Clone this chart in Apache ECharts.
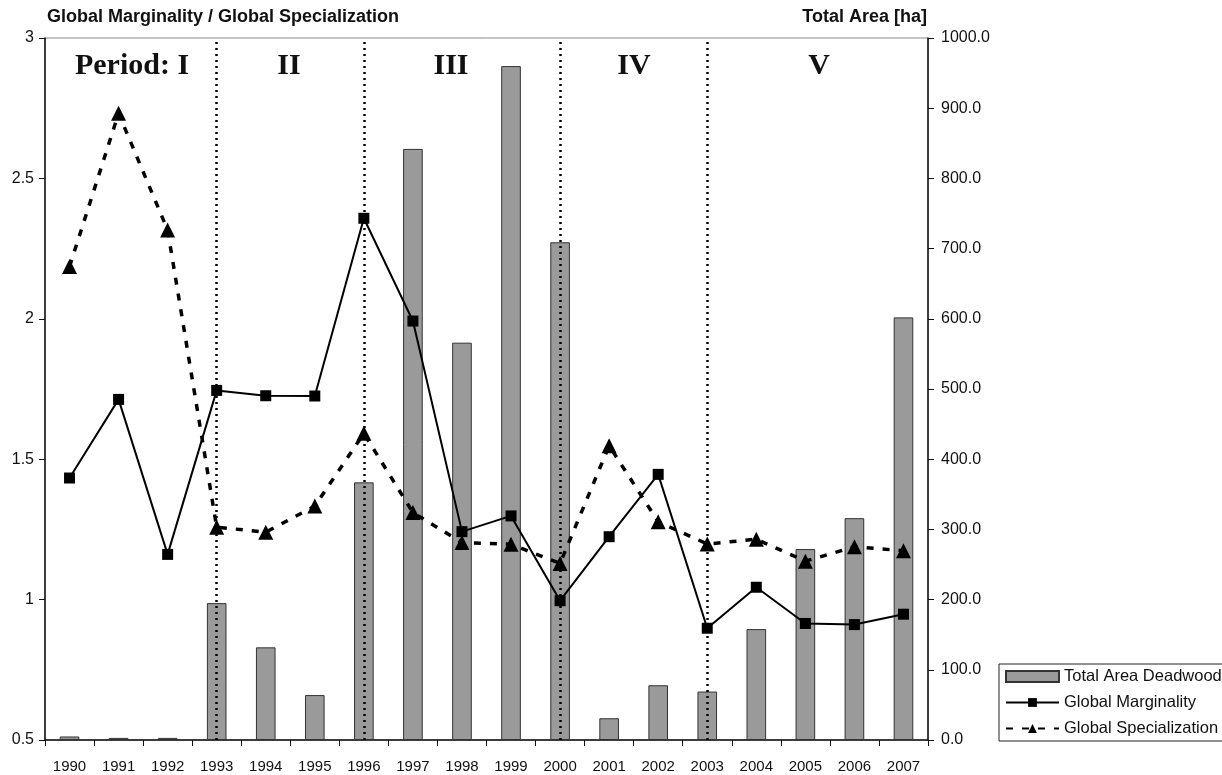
<!DOCTYPE html>
<html>
<head>
<meta charset="utf-8">
<script src="https://cdn.jsdelivr.net/npm/echarts@6/dist/echarts.min.js"></script>
<style>
html,body{margin:0;padding:0;background:#fff;}
#chart{width:1222px;height:775px;}
</style>
</head>
<body>
<div id="chart"></div>
<script>
var years = ['1990','1991','1992','1993','1994','1995','1996','1997','1998','1999','2000','2001','2002','2003','2004','2005','2006','2007'];
var totalArea = [5, 3, 3, 195, 132, 64, 367, 842, 566, 960, 709, 31, 78, 69, 158, 272, 316, 602];
var marginality = [1.433, 1.713, 1.161, 1.745, 1.726, 1.725, 2.358, 1.992, 1.242, 1.298, 0.996, 1.224, 1.446, 0.898, 1.044, 0.915, 0.911, 0.948];
var specialization = [2.186, 2.732, 2.316, 1.258, 1.24, 1.333, 1.592, 1.31, 1.203, 1.197, 1.129, 1.548, 1.277, 1.198, 1.215, 1.137, 1.188, 1.174];
var periodBreaks = ['1993','1996','2000','2003'];
var periodLabels = ['Period: I','II','III','IV','V'];
var leftTicks = {min:0.5, max:3, interval:0.5};
var rightTicks = {min:0, max:1000, interval:100};

var chart = echarts.init(document.getElementById('chart'), null, {renderer:'canvas'});
var sans = 'Liberation Sans, Arial, sans-serif';
var serif = 'Liberation Serif, Times New Roman, serif';
var periodX = [132, 289, 451, 634, 819];

var option = {
  animation:false,
  backgroundColor:'#fff',
  textStyle:{fontFamily:sans},
  grid:{left:45, right:294, top:38, bottom:35, show:true, borderColor:'#8a8a8a', borderWidth:1},
  legend:{
    orient:'vertical', left:999, top:664, padding:[4,8,4,6],
    borderColor:'#222', borderWidth:1, itemGap:9,
    itemWidth:53, itemHeight:11,
    textStyle:{fontFamily:sans, fontSize:16.5, color:'#111'},
    data:[{name:'Total Area Deadwood', icon:'rect'},'Global Marginality','Global Specialization']
  },
  graphic: periodLabels.map(function(t,i){
    return {type:'text', x: periodX[i], y: 51, z:10,
      style:{text:t, font:'bold 30px '+serif, fill:'#111', textAlign:'center', textVerticalAlign:'top'}};
  }).concat([
    {type:'text', x:47, y:8, style:{text:'Global Marginality / Global Specialization', font:'bold 18px '+sans, fill:'#111', textVerticalAlign:'top'}},
    {type:'text', x:927, y:8, style:{text:'Total Area [ha]', font:'bold 18px '+sans, fill:'#111', textAlign:'right', textVerticalAlign:'top'}}
  ]),
  xAxis:{
    type:'category', data:years, boundaryGap:true,
    axisLine:{lineStyle:{color:'#111', width:1.5}},
    axisTick:{show:true, length:6, lineStyle:{color:'#111'}},
    axisLabel:{color:'#111', fontSize:15, margin:19, interval:0, fontFamily:sans}
  },
  yAxis:[
    {type:'value', min:leftTicks.min, max:leftTicks.max, interval:leftTicks.interval, position:'left',
      axisLine:{show:true, lineStyle:{color:'#111', width:1.5}},
      axisTick:{show:true, length:6, lineStyle:{color:'#111'}},
      axisLabel:{color:'#111', fontSize:16, margin:11, fontFamily:sans},
      splitLine:{show:false}},
    {type:'value', min:rightTicks.min, max:rightTicks.max, interval:rightTicks.interval, position:'right',
      axisLine:{show:true, lineStyle:{color:'#111', width:1.5}},
      axisTick:{show:true, length:6, lineStyle:{color:'#111'}},
      axisLabel:{color:'#111', fontSize:16, margin:13, fontFamily:sans, formatter:function(v){return v.toFixed(1);}},
      splitLine:{show:false}}
  ],
  series:[
    {name:'Total Area Deadwood', type:'bar', yAxisIndex:1, data:totalArea, barWidth:'40%',
      itemStyle:{color:'#9a9a9a', borderColor:'#333', borderWidth:1}, z:2},
    {name:'Global Marginality', type:'line', yAxisIndex:0, data:marginality,
      symbol:'rect', symbolSize:11, itemStyle:{color:'#000'},
      lineStyle:{color:'#000', width:2}, z:4},
    {name:'Global Specialization', type:'line', yAxisIndex:0, data:specialization,
      symbol:'triangle', symbolSize:15, itemStyle:{color:'#000'},
      lineStyle:{color:'#000', width:3.5, type:[7,9]}, z:4,
      markLine:{silent:true, symbol:'none', label:{show:false},
        lineStyle:{color:'#000', type:[2,4], width:2.5},
        data: periodBreaks.map(function(y){return {xAxis:y};})}}
  ]
};
chart.setOption(option);
</script>
</body>
</html>
